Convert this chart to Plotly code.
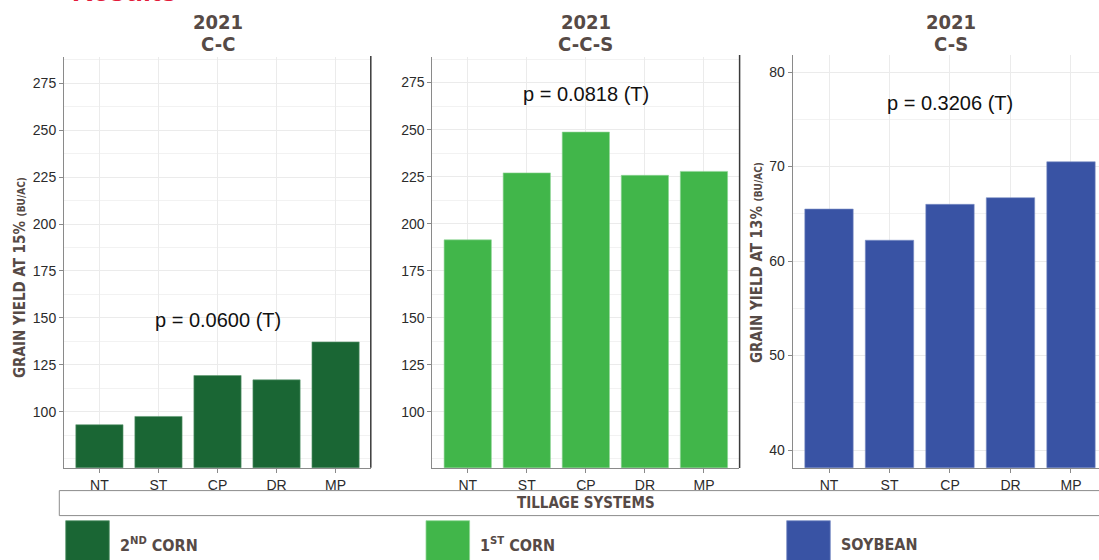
import plotly.graph_objects as go

# ---------------- data ----------------
categories = ["NT", "ST", "CP", "DR", "MP"]
cc_yield = [93.1, 97.5, 119.3, 117.0, 137.2]        # 2021 C-C (2nd corn)
ccs_yield = [191.4, 227.0, 248.7, 225.7, 227.8]     # 2021 C-C-S (1st corn)
cs_yield = [65.5, 62.2, 66.0, 66.7, 70.5]           # 2021 C-S (soybean)
panel_titles = ["2021", "2021", "2021"]
panel_subtitles = ["C-C", "C-C-S", "C-S"]
p_labels = ["p = 0.0600 (T)", "p = 0.0818 (T)", "p = 0.3206 (T)"]
p_label_y = [148.8, 268.7, 76.7]
corn_ticks = [100, 125, 150, 175, 200, 225, 250, 275]
soy_ticks = [40, 50, 60, 70, 80]
legend_labels = ["2<sup>ND</sup> CORN", "1<sup>ST</sup> CORN", "SOYBEAN"]

# ---------------- style ----------------
W, H = 1099, 560
C_DARK = "#1a6634"
C_LIGHT = "#41b64a"
C_BLUE = "#3953a4"
colors = [C_DARK, C_LIGHT, C_BLUE]
EDGE = ["#5f9a72", "#8fd595", "#7d90c6"]
TXT = "#564a46"
COND = "DejaVu Sans Condensed, Liberation Sans Narrow, sans-serif"
SANS = "Liberation Sans, Arial, sans-serif"


def px(x):
    return x / W


def py(y):
    return 1 - y / H


fig = go.Figure()
series = [cc_yield, ccs_yield, cs_yield]
for i, vals in enumerate(series):
    fig.add_trace(go.Bar(
        x=categories, y=vals,
        marker=dict(color=colors[i], line=dict(color=EDGE[i], width=0.6)),
        xaxis="x" if i == 0 else f"x{i+1}",
        yaxis="y" if i == 0 else f"y{i+1}",
        showlegend=False, hoverinfo="x+y",
    ))

x_domains = [[px(64), px(371)], [px(432.3), px(739.4)], [px(792.7), 1.0]]
y_domains = [[py(467.7), py(57)], [py(467.7), py(57)], [py(467.7), py(55)]]
x_ranges = [[-0.6, 4.6], [-0.6, 4.6], [-0.6, 4.463]]
y_ranges = [[70.2, 289.0], [70.3, 288.6], [38.13, 81.8]]
y_tickvals = [corn_ticks, corn_ticks, soy_ticks]
minor_dt = [12.5, 12.5, 5]

AX = "#8a8a8a"
for i in range(3):
    sx = "" if i == 0 else str(i + 1)
    fig.layout["xaxis" + sx] = dict(
        domain=x_domains[i], range=x_ranges[i], anchor="y" + sx,
        type="category", showgrid=True, gridcolor="#ebebeb", gridwidth=1,
        showline=True, linecolor=AX, linewidth=1,
        ticks="outside", ticklen=4, tickcolor=AX, tickwidth=1,
        tickfont=dict(family=SANS, size=14, color="#2b2b2b"),
        fixedrange=True, zeroline=False,
    )
    fig.layout["yaxis" + sx] = dict(
        domain=y_domains[i], range=y_ranges[i], anchor="x" + sx,
        tickmode="array", tickvals=y_tickvals[i],
        showgrid=True, gridcolor="#ebebeb", gridwidth=1,
        minor=dict(dtick=minor_dt[i], tick0=0, showgrid=True,
                   gridcolor="#f2f2f2", gridwidth=0.6, ticks=""),
        showline=True, linecolor=AX, linewidth=1,
        ticks="outside", ticklen=4, tickcolor=AX, tickwidth=1,
        tickfont=dict(family=SANS, size=14, color="#2b2b2b"),
        fixedrange=True, zeroline=False,
    )

annotations = []
title_x = [217.5, 585.8, 951]
for i in range(3):
    annotations.append(dict(
        text=f"<b>{panel_titles[i]}</b>", x=px(title_x[i]), y=py(22),
        xref="paper", yref="paper", xanchor="center", yanchor="middle",
        showarrow=False, font=dict(family=COND, size=20, color=TXT)))
    annotations.append(dict(
        text=f"<b>{panel_subtitles[i]}</b>", x=px(title_x[i]), y=py(44),
        xref="paper", yref="paper", xanchor="center", yanchor="middle",
        showarrow=False, font=dict(family=COND, size=20, color=TXT)))
    sx = "" if i == 0 else str(i + 1)
    annotations.append(dict(
        text=p_labels[i], x="CP", y=p_label_y[i],
        xref="x" + sx, yref="y" + sx, xanchor="center", yanchor="middle",
        showarrow=False, font=dict(family=SANS, size=20, color="#111111")))

# y axis titles
annotations.append(dict(
    text="<b>GRAIN YIELD AT 15% <span style='font-size:10px'>(BU/AC)</span></b>",
    x=px(20), y=py(278), xref="paper", yref="paper", textangle=-90,
    xanchor="center", yanchor="middle", showarrow=False,
    font=dict(family=COND, size=15, color=TXT)))
annotations.append(dict(
    text="<b>GRAIN YIELD AT 13% <span style='font-size:10px'>(BU/AC)</span></b>",
    x=px(757), y=py(263), xref="paper", yref="paper", textangle=-90,
    xanchor="center", yanchor="middle", showarrow=False,
    font=dict(family=COND, size=15, color=TXT)))

# shared x axis title
annotations.append(dict(
    text="<b>TILLAGE SYSTEMS</b>", x=px(586), y=py(503),
    xref="paper", yref="paper", xanchor="center", yanchor="middle",
    showarrow=False, font=dict(family=COND, size=15, color=TXT)))

# section heading (cut off at top)
annotations.append(dict(
    text="<b>Results</b>", x=px(70), y=py(9),
    xref="paper", yref="paper", xanchor="left", yanchor="bottom",
    showarrow=False, font=dict(family=SANS, size=29, color="#e31b3b")))

# legend
leg_sq_x = [65.7, 426, 786.7]
leg_txt_x = [118, 478, 839]
shapes = []
for i in range(3):
    shapes.append(dict(type="rect", xref="paper", yref="paper",
                       x0=px(leg_sq_x[i]), x1=px(leg_sq_x[i] + 43.6),
                       y0=py(575), y1=py(520.7),
                       fillcolor=colors[i], line=dict(color=EDGE[i], width=0.8)))
    annotations.append(dict(
        text=f"<b>{legend_labels[i]}</b>", x=px(leg_txt_x[i]), y=py(544),
        xref="paper", yref="paper", xanchor="left", yanchor="middle",
        showarrow=False, font=dict(family=COND, size=16, color=TXT)))

# x-title box
shapes.append(dict(type="rect", xref="paper", yref="paper",
                   x0=px(59.3), x1=px(1110), y0=py(515.6), y1=py(490.6),
                   line=dict(color="#8c8c8c", width=1), fillcolor="rgba(0,0,0,0)"))
# panel separators
shapes.append(dict(type="line", xref="paper", yref="paper",
                   x0=px(370.8), x1=px(370.8), y0=py(467.7), y1=py(56),
                   line=dict(color="#3a3a3a", width=1.5)))
shapes.append(dict(type="line", xref="paper", yref="paper",
                   x0=px(739.6), x1=px(739.6), y0=py(468), y1=py(55),
                   line=dict(color="#3a3a3a", width=1.5)))

fig.update_layout(
    width=W, height=H, autosize=False,
    margin=dict(l=0, r=0, t=0, b=0, pad=0),
    paper_bgcolor="white", plot_bgcolor="white",
    bargap=0.2, showlegend=False,
    annotations=annotations, shapes=shapes,
)

fig.write_html("out.html", config={"displayModeBar": False},
               post_script="document.body.style.margin='0';")
